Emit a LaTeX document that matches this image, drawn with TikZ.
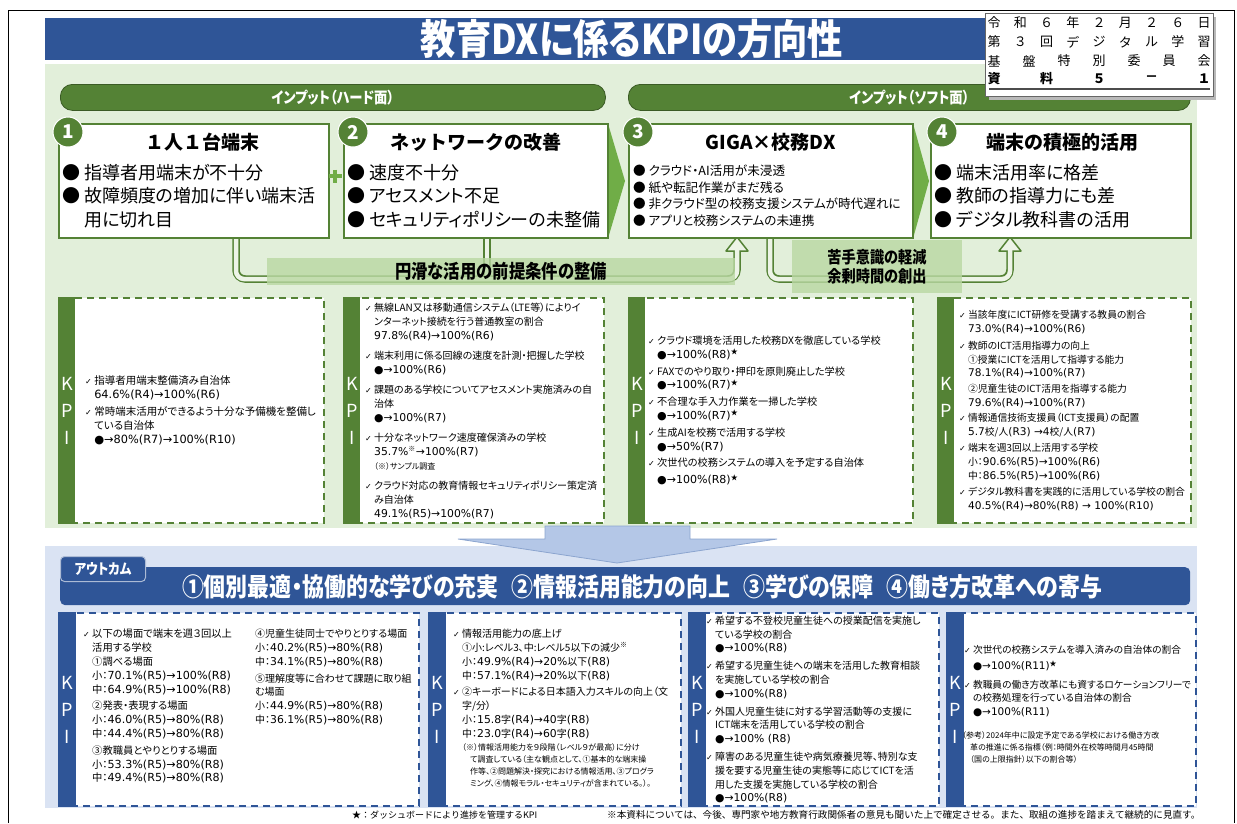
\documentclass[tikz,border=0pt]{standalone}
\usepackage{fontspec}
\setmainfont[RawFeature=+palt]{Noto Sans CJK JP}
\newfontfamily\plainjp{Noto Sans CJK JP}
\newfontfamily\narrowjp[FakeStretch=0.86,RawFeature=+palt]{Noto Sans CJK JP}
\newfontfamily\symfont{DejaVu Sans}
\newfontfamily\valfont[Scale=1.08]{DejaVu Sans}
\usetikzlibrary{calc}

\definecolor{dkgreen}{HTML}{548235}
\definecolor{midgreen}{HTML}{70AD47}
\definecolor{ltgreen}{HTML}{E2EFDA}
\definecolor{flowgreen}{HTML}{EDF4E7}
\definecolor{bandgreen}{HTML}{B9D8A2}
\definecolor{dkblue}{HTML}{2F5597}
\definecolor{ltblue}{HTML}{DAE3F3}
\definecolor{arrowblue}{HTML}{B4C7E7}

\newcommand\chk{{\symfont\fontsize{8}{8}\selectfont ✓}\ }
\newcommand\ind{\hphantom{\chk}}
\newcommand\val[1]{{\valfont #1}}
\newcommand\kstar{\raisebox{3.5pt}{\fontsize{7}{7}\selectfont ★}}
\newcommand\kpisize{\fontsize{10}{13.8}\selectfont}
\newcommand\notesize{\fontsize{8}{12}\selectfont}

\begin{document}
\begin{tikzpicture}[x=1pt,y=-1pt,
  card/.style={draw=dkgreen, line width=1.5pt, fill=white, inner sep=0pt, anchor=north west},
  numdot/.style={circle, fill=dkgreen, draw=white, line width=1pt, minimum size=30pt,
    inner sep=0pt, text=white, font=\plainjp\bfseries\fontsize{19}{19}\selectfont},
  heading/.style={inner sep=0pt, font=\plainjp\bfseries\fontsize{19}{19}\selectfont},
  bullets/.style={align=left, inner sep=0pt, anchor=north west, font=\fontsize{18}{23.5}\selectfont},
  smallbullets/.style={align=left, inner sep=0pt, anchor=north west, font=\fontsize{12.6}{16.5}\selectfont},
  pill/.style={rounded corners=12pt, fill=dkgreen, draw=dkgreen!70!black, line width=0.8pt,
    text=white, font=\narrowjp\bfseries\fontsize{15.5}{15.5}\selectfont, anchor=north west, inner sep=0pt},
  flowout/.style={draw=dkgreen, line width=7.5pt, rounded corners=9pt},
  flowin/.style={draw=flowgreen, line width=4.5pt, rounded corners=8pt},
  flowhead/.style={fill=flowgreen, draw=dkgreen, line width=1.5pt, line join=round},
  band/.style={fill=bandgreen, fill opacity=0.8, text opacity=1, inner sep=0pt, align=center,
    font=\narrowjp\bfseries\fontsize{19}{19}\selectfont},
  kpigreen/.style={draw=dkgreen, dash pattern=on 7pt off 5pt, line width=2pt, fill=white,
    inner sep=0pt, anchor=north west},
  kpiblue/.style={draw=dkblue, dash pattern=on 7pt off 5pt, line width=2pt, fill=white,
    inner sep=0pt, anchor=north west},
  kpiletter/.style={text=white, inner sep=0pt, font=\plainjp\fontsize{18}{18}\selectfont},
  kpitext/.style={align=left, inner sep=0pt, font=\kpisize},
  notetext/.style={align=left, inner sep=0pt, font=\notesize},
  docchar/.style={inner sep=0pt, font=\plainjp\fontsize{13}{13}\selectfont},
  footnote/.style={inner sep=0pt, anchor=west, font=\plainjp\fontsize{9}{10}\selectfont},
]
\useasboundingbox (0,0) rectangle (1237,823);
\draw[line width=1pt] (8,823) -- (8,10) -- (1234,10) -- (1234,823);

% title
\node[fill=dkblue, minimum width=1150pt, minimum height=42pt, anchor=north west, inner sep=0pt] (titlebar) at (45,18) {};
\node[text=white, inner sep=0pt, font=\narrowjp\bfseries\fontsize{41}{41}\selectfont] (title) at (632,39) {教育DXに係るKPIの方向性};

% input panel
\fill[ltgreen] (45,64) rectangle (1197,528);
\node[pill, minimum width=545pt, minimum height=26pt] (pillhard) at (60,84) {インプット（ハード面）};
\node[pill, minimum width=562pt, minimum height=26pt] (pillsoft) at (628,84) {インプット（ソフト面）};

\coordinate (f1a) at (236,237);
\coordinate (f1b) at (487,237);
\coordinate (f1c) at (737,237);
\coordinate (f2a) at (770,237);
\coordinate (f2c) at (1010,237);
\draw[flowout] (f1a) |- ($(f1c)+(0,42)$) -- ($(f1c)+(0,13)$);
\draw[flowout] (f1b) -- ++(0,42);
\draw[flowout] (f2a) |- ($(f2c)+(0,42)$) -- ($(f2c)+(0,13)$);
\filldraw[flowhead] ($(f1c)+(-11,14)$) -- (f1c) -- ($(f1c)+(11,14)$) -- cycle;
\filldraw[flowhead] ($(f2c)+(-11,14)$) -- (f2c) -- ($(f2c)+(11,14)$) -- cycle;
\draw[flowin] (f1a) |- ($(f1c)+(0,42)$) -- ($(f1c)+(0,12)$);
\draw[flowin] (f1b) -- ++(0,42);
\draw[flowin] (f2a) |- ($(f2c)+(0,42)$) -- ($(f2c)+(0,12)$);

% cards
\node[card, minimum width=270pt, minimum height=114pt] (box1) at (58,123) {};
\node[card, minimum width=264pt, minimum height=114pt] (box2) at (343,123) {};
\node[card, minimum width=284pt, minimum height=114pt] (box3) at (628,123) {};
\node[card, minimum width=260pt, minimum height=114pt] (box4) at (930,123) {};

\node[numdot] (n1) at ([xshift=10pt,yshift=-9pt]box1.north west) {1};
\node[numdot] (n2) at ([xshift=10pt,yshift=-9pt]box2.north west) {2};
\node[numdot] (n3) at ([xshift=10pt,yshift=-9pt]box3.north west) {3};
\node[numdot] (n4) at ([xshift=12pt,yshift=-9pt]box4.north west) {4};

\node[heading] (h1) at ([xshift=9pt,yshift=-19pt]box1.north) {１人１台端末};
\node[heading] (h2) at ([yshift=-19pt]box2.north) {ネットワークの改善};
\node[heading] (h3) at ([yshift=-19pt]box3.north) {GIGA×校務DX};
\node[heading] (h4) at ([xshift=2pt,yshift=-19pt]box4.north) {端末の積極的活用};

\node[bullets] (b1) at ([xshift=4pt,yshift=-41pt]box1.north west) {● 指導者用端末が不十分\\● 故障頻度の増加に伴い端末活\\\hphantom{● }用に切れ目};
\node[bullets] (b2) at ([xshift=4pt,yshift=-41pt]box2.north west) {● 速度不十分\\● アセスメント不足\\● セキュリティポリシーの未整備};
\node[smallbullets] (b3) at ([xshift=5pt,yshift=-42pt]box3.north west) {● クラウド・AI活用が未浸透\\● 紙や転記作業がまだ残る\\● 非クラウド型の校務支援システムが時代遅れに\\● アプリと校務システムの未連携};
\node[bullets] (b4) at ([xshift=4pt,yshift=-41pt]box4.north west) {● 端末活用率に格差\\● 教師の指導力にも差\\● デジタル教科書の活用};

\fill[midgreen] (609,127) -- (625,181) -- (609,235) -- cycle;
\fill[midgreen] (914,127) -- (929,181) -- (914,235) -- cycle;
\draw[midgreen, line width=4.5pt] (328.5,176) -- (341.5,176) (335,169.5) -- (335,182.5);

\node[band, minimum width=468pt, minimum height=27pt] (band1) at (501,271.5) {円滑な活用の前提条件の整備};
\node[band, minimum width=170pt, minimum height=53pt, font=\narrowjp\bfseries\fontsize{16.5}{19.5}\selectfont] (band2) at (877,266.5) {苦手意識の軽減\\余剰時間の創出};

% input KPI
\node[kpigreen, minimum width=265pt, minimum height=225pt] (kpi1) at (58,297) {};
\node[kpigreen, minimum width=260pt, minimum height=225pt] (kpi2) at (343,297) {};
\node[kpigreen, minimum width=284pt, minimum height=225pt] (kpi3) at (628,297) {};
\node[kpigreen, minimum width=253pt, minimum height=225pt] (kpi4) at (937,297) {};
\foreach \bx in {kpi1,kpi2,kpi3,kpi4} {
  \fill[dkgreen] (\bx.north west) rectangle ([xshift=17pt]\bx.south west);
  \node[kpiletter] (\bx-k) at ([xshift=9pt,yshift=27pt]\bx.west) {K};
  \node[kpiletter] (\bx-p) at ([xshift=9pt]\bx.west) {P};
  \node[kpiletter] (\bx-i) at ([xshift=9pt,yshift=-27pt]\bx.west) {I};
}

\node[kpitext, anchor=west, font=\fontsize{10.5}{14}\selectfont] (kpi1t) at ([xshift=27pt]kpi1.west) {%
\chk 指導者用端末整備済み自治体\\
\ind \val{64.6\%(R4)→100\%(R6)}\\[3pt]
\chk 常時端末活用ができるよう十分な予備機を整備し\\
\ind ている自治体\\
\ind \val{●→80\%(R7)→100\%(R10)}};

\node[kpitext, anchor=west, font=\fontsize{10}{14}\selectfont] (kpi2t) at ([xshift=22pt]kpi2.west) {%
\chk 無線LAN又は移動通信システム（LTE等）によりイ\\
\ind ンターネット接続を行う普通教室の割合\\
\ind \val{97.8\%(R4)→100\%(R6)}\\[6pt]
\chk 端末利用に係る回線の速度を計測・把握した学校\\
\ind \val{●→100\%(R6)}\\[6pt]
\chk 課題のある学校についてアセスメント実施済みの自\\
\ind 治体\\
\ind \val{●→100\%(R7)}\\[6pt]
\chk 十分なネットワーク速度確保済みの学校\\
\ind \val{35.7\%}\textsuperscript{※}\val{→100\%(R7)}\\
\ind {\notesize （※）サンプル調査}\\[6pt]
\chk クラウド対応の教育情報セキュリティポリシー策定済\\
\ind み自治体\\
\ind \val{49.1\%(R5)→100\%(R7)}};

\node[kpitext, anchor=west, font=\fontsize{10.2}{13.8}\selectfont] (kpi3t) at ([xshift=20pt]kpi3.west) {%
\chk クラウド環境を活用した校務DXを徹底している学校\\
\ind \val{●→100\%(R8)}\kstar\\[3pt]
\chk FAXでのやり取り・押印を原則廃止した学校\\
\ind \val{●→100\%(R7)}\kstar\\[3pt]
\chk 不合理な手入力作業を一掃した学校\\
\ind \val{●→100\%(R7)}\kstar\\[3pt]
\chk 生成AIを校務で活用する学校\\
\ind \val{●→50\%(R7)}\\[3pt]
\chk 次世代の校務システムの導入を予定する自治体\\[3pt]
\ind \val{●→100\%(R8)}\kstar};

\node[kpitext, anchor=west, font=\fontsize{9.8}{13.8}\selectfont] (kpi4t) at ([xshift=22pt]kpi4.west) {%
\chk 当該年度にICT研修を受講する教員の割合\\
\ind \val{73.0\%(R4)→100\%(R6)}\\[3pt]
\chk 教師のICT活用指導力の向上\\
\ind ①授業にICTを活用して指導する能力\\
\ind \val{78.1\%(R4)→100\%(R7)}\\[2pt]
\ind ②児童生徒のICT活用を指導する能力\\
\ind \val{79.6\%(R4)→100\%(R7)}\\[1pt]
\chk 情報通信技術支援員（ICT支援員）の配置\\
\ind \val{5.7}校/人\val{(R3) →4}校/人\val{(R7)}\\[3pt]
\chk 端末を週3回以上活用する学校\\
\ind 小：\val{90.6\%(R5)→100\%(R6)}\\
\ind 中：\val{86.5\%(R5)→100\%(R6)}\\[2pt]
\chk デジタル教科書を実践的に活用している学校の割合\\
\ind \val{40.5\%(R4)→80\%(R8) → 100\%(R10)}};

% outcome panel
\fill[ltblue] (45,546) rectangle (1197,808);
\filldraw[fill=arrowblue, draw=arrowblue!70!dkblue, line width=0.8pt] (545,526) -- (690,526) -- (690,539)
  -- (777,539) -- (617,563) -- (458,539) -- (545,539) -- cycle;
\node[fill=dkblue, rounded corners=5pt, minimum width=1130pt, minimum height=38pt, anchor=north west, inner sep=0pt] (outbar) at (60,567) {};
\node[text=white, inner sep=0pt, font=\narrowjp\bfseries\fontsize{25.5}{25.5}\selectfont] (outtext) at (642,587)
  {①個別最適・協働的な学びの充実\enspace ②情報活用能力の向上\enspace ③学びの保障\enspace ④働き方改革への寄与};
\node[fill=dkblue, draw=white!60!dkblue, line width=1pt, rounded corners=4pt, minimum width=85pt, minimum height=25pt,
  anchor=north west, inner sep=0pt, text=white, font=\narrowjp\bfseries\fontsize{14.5}{14.5}\selectfont] (outtab) at (60,556) {アウトカム};

\node[kpiblue, minimum width=360pt, minimum height=193pt] (out1) at (58,612) {};
\node[kpiblue, minimum width=252pt, minimum height=193pt] (out2) at (428,612) {};
\node[kpiblue, minimum width=250pt, minimum height=193pt] (out3) at (688,612) {};
\node[kpiblue, minimum width=249pt, minimum height=193pt] (out4) at (946,612) {};
\foreach \bx in {out1,out2,out3,out4} {
  \fill[dkblue] (\bx.north west) rectangle ([xshift=18pt]\bx.south west);
  \node[kpiletter] (\bx-k) at ([xshift=9.5pt,yshift=27pt]\bx.west) {K};
  \node[kpiletter] (\bx-p) at ([xshift=9.5pt]\bx.west) {P};
  \node[kpiletter] (\bx-i) at ([xshift=9.5pt,yshift=-27pt]\bx.west) {I};
}

\node[kpitext, anchor=north west, font=\fontsize{10.3}{13.8}\selectfont] (out1t) at ([xshift=25pt,yshift=-17pt]out1.north west) {%
\chk 以下の場面で端末を週３回以上\\
\ind 活用する学校\\
\ind ①調べる場面\\
\ind 小：\val{70.1\%(R5)→100\%(R8)}\\
\ind 中：\val{64.9\%(R5)→100\%(R8)}\\[3pt]
\ind ②発表・表現する場面\\
\ind 小：\val{46.0\%(R5)→80\%(R8)}\\
\ind 中：\val{44.4\%(R5)→80\%(R8)}\\[3pt]
\ind ③教職員とやりとりする場面\\
\ind 小：\val{53.3\%(R5)→80\%(R8)}\\
\ind 中：\val{49.4\%(R5)→80\%(R8)}};
\node[kpitext, anchor=north west] (out1u) at ([xshift=197pt,yshift=-17pt]out1.north west) {%
④児童生徒同士でやりとりする場面\\
小：\val{40.2\%(R5)→80\%(R8)}\\
中：\val{34.1\%(R5)→80\%(R8)}\\[3pt]
⑤理解度等に合わせて課題に取り組\\
む場面\\
小：\val{44.9\%(R5)→80\%(R8)}\\
中：\val{36.1\%(R5)→80\%(R8)}};

\node[kpitext, anchor=north west] (out2t) at ([xshift=25pt,yshift=-17pt]out2.north west) {%
\chk 情報活用能力の底上げ\\
\ind ①小:レベル3、中:レベル5以下の減少\textsuperscript{※}\\
\ind 小：\val{49.9\%(R4)→20\%}以下\val{(R8)}\\
\ind 中：\val{57.1\%(R4)→20\%}以下\val{(R8)}\\[3pt]
\chk ②キーボードによる日本語入力スキルの向上（文\\
\ind 字/分）\\
\ind 小：\val{15.8}字\val{(R4)→40}字\val{(R8)}\\
\ind 中：\val{23.0}字\val{(R4)→60}字\val{(R8)}};
\node[notetext, anchor=north west] (out2n) at ([xshift=9pt,yshift=-5pt]out2t.south west) {%
（※）情報活用能力を９段階（レベル９が最高）に分け\\
\hspace*{8pt}て調査している（主な観点として、①基本的な端末操\\
\hspace*{8pt}作等、②問題解決・探究における情報活用、③プログラ\\
\hspace*{8pt}ミング、④情報モラル・セキュリティが含まれている。）。};

\node[kpitext, anchor=west] (out3t) at ([xshift=18pt]out3.west) {%
\chk 希望する不登校児童生徒への授業配信を実施し\\
\ind ている学校の割合\\
\ind \val{●→100\%(R8)}\\[4pt]
\chk 希望する児童生徒への端末を活用した教育相談\\
\ind を実施している学校の割合\\
\ind \val{●→100\%(R8)}\\[4pt]
\chk 外国人児童生徒に対する学習活動等の支援に\\
\ind ICT端末を活用している学校の割合\\
\ind \val{●→100\% (R8)}\\[4pt]
\chk 障害のある児童生徒や病気療養児等、特別な支\\
\ind 援を要する児童生徒の実態等に応じてICTを活\\
\ind 用した支援を実施している学校の割合\\
\ind \val{●→100\%(R8)}};

\node[kpitext, anchor=north west, font=\fontsize{9.7}{13.5}\selectfont] (out4t) at ([xshift=18pt,yshift=-33pt]out4.north west) {%
\chk 次世代の校務システムを導入済みの自治体の割合\\[3pt]
\ind \val{●→100\%(R11)}\kstar\\[5pt]
\chk 教職員の働き方改革にも資するロケーションフリーで\\
\ind の校務処理を行っている自治体の割合\\
\ind \val{●→100\%(R11)}};
\node[notetext, anchor=north west] (out4n) at ([xshift=-2pt,yshift=-14pt]out4t.south west) {%
（参考）2024年中に設定予定である学校における働き方改\\
\hspace*{8pt}革の推進に係る指標（例：時間外在校等時間月45時間\\
\hspace*{8pt}（国の上限指針）以下の割合等）};

% footer
\node[footnote] (foot1) at (352,815) {★：ダッシュボードにより進捗を管理するKPI};
\node[footnote, font=\plainjp\fontsize{9.6}{10}\selectfont] (foot2) at (607,815) {※本資料については、今後、専門家や地方教育行政関係者の意見も聞いた上で確定させる。また、取組の進捗を踏まえて継続的に見直す。};

% document label
\fill[gray!55] (989,17) rectangle (1216,100);
\node[draw=gray!80!black, line width=0.6pt, fill=white, minimum width=228pt, minimum height=83pt,
  anchor=north west, inner sep=0pt] (docbox) at (985,13) {};
\foreach \c [count=\n from 0] in {令,和,６,年,２,月,２,６,日}
  \node[docchar] (r1-\n) at ({994+\n*26.25},23) {\c};
\foreach \c [count=\n from 0] in {第,３,回,デ,ジ,タ,ル,学,習}
  \node[docchar] (r2-\n) at ({994+\n*26.25},42) {\c};
\foreach \c [count=\n from 0] in {基,盤,特,別,委,員,会}
  \node[docchar] (r3-\n) at ({994+\n*35},61) {\c};
\foreach \c [count=\n from 0] in {資,料,５,－,１}
  \node[docchar, font=\plainjp\bfseries\fontsize{13}{13}\selectfont] (r4-\n) at ({994+\n*52.5},79) {\c};
\draw[gray!60!black, line width=1.2pt] (989,89) -- (1210,89);
\end{tikzpicture}
\end{document}
